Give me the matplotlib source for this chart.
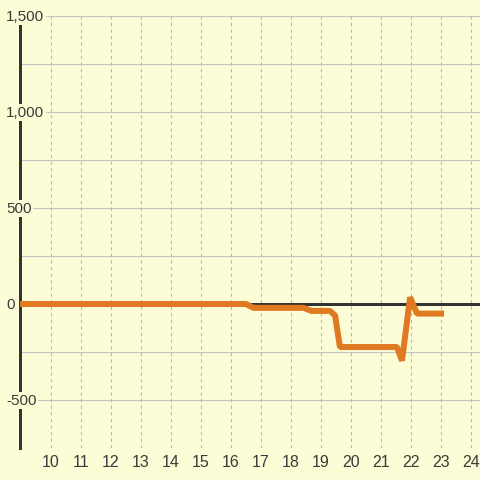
import matplotlib
matplotlib.use("Agg")
import matplotlib.pyplot as plt

# data
x_vals = [8.9, 16.5, 16.75, 18.42, 18.68, 19.3, 19.47, 19.63, 21.53, 21.7, 21.97, 22.2, 23.0]
y_vals = [0, 0, -20, -20, -36, -36, -60, -224, -224, -295, 35, -50, -50]
x_ticks = [10, 11, 12, 13, 14, 15, 16, 17, 18, 19, 20, 21, 22, 23, 24]
y_ticks = [-500, 0, 500, 1000, 1500]
y_labels = ["-500", "0", "500", "1,000", "1,500"]
y_minor = [-750, -250, 250, 750, 1250]

BG = "#FCFCD7"
plt.rcParams['font.family'] = ['Liberation Sans', 'DejaVu Sans']

fig = plt.figure(figsize=(4.8, 4.8), dpi=100)
fig.patch.set_facecolor(BG)
ax = fig.add_axes([20/480, 32/480, 460/480, 432/480])
ax.set_facecolor(BG)
ax.set_xlim(8.967, 24.3)
ax.set_ylim(-750, 1500)

px = 0.72
for v in y_ticks + y_minor:
    ax.axhline(v, color="#c4c4c4", lw=1.1*px, zorder=1)
for v in x_ticks:
    ax.axvline(v, color="#b8b8b8", lw=1.1*px, linestyle=(0, (3, 3)), zorder=1)

ax.axhline(0, color="#333333", lw=3*px, zorder=2)
ax.plot(x_vals, y_vals, color="#DF7A23", lw=6*px, zorder=3, solid_joinstyle="bevel")

for s in ["top", "right", "bottom"]:
    ax.spines[s].set_visible(False)
ax.spines["left"].set_color("#333333")
ax.spines["left"].set_linewidth(3*px)
ax.spines["left"].set_zorder(2.5)

ax.set_yticks([])
ax.set_xticks(x_ticks)
ax.set_xticklabels([str(t) for t in x_ticks], fontsize=11.5, color="#3a3a3a")
ax.tick_params(axis="x", length=0, pad=5)

trans = ax.get_yaxis_transform()
for v, lab in zip(y_ticks, y_labels):
    ax.text(-14/460, v - 3, lab, transform=trans, ha="left", va="center",
            fontsize=11, color="#3a3a3a", zorder=5, clip_on=False,
            bbox=dict(boxstyle="square,pad=0.1", facecolor=BG, edgecolor="none"))

fig.savefig("out.png", dpi=100, facecolor=BG)
